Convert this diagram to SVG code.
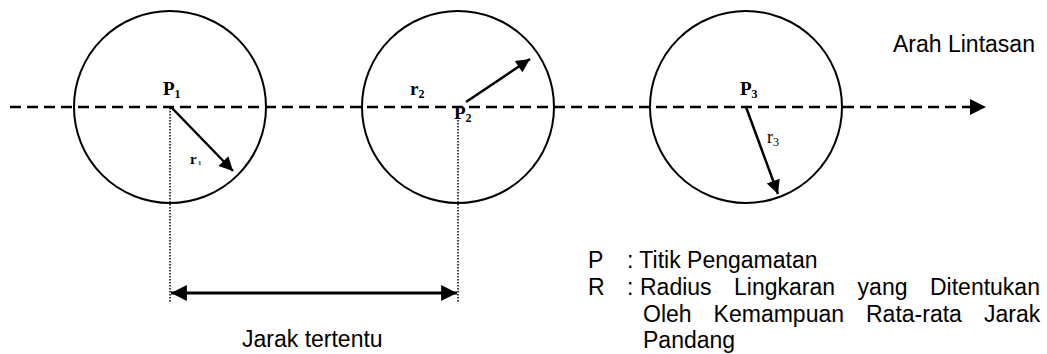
<svg xmlns="http://www.w3.org/2000/svg" width="1047" height="354" viewBox="0 0 1047 354">
<style>
.circ{fill:none;stroke:#000;stroke-width:2}
.path{stroke:#000;stroke-width:2.5;stroke-dasharray:11 6;fill:none}
.dot{stroke:#000;stroke-width:1.5;stroke-dasharray:1.5 1.5;fill:none}
.arr{stroke:#000;stroke-width:2.5;fill:none}
.lbl{font-family:"Liberation Serif",serif;font-weight:bold;font-size:19px;fill:#000}
.sub{font-size:12px}
.txt{font-family:"Liberation Sans",Arial,sans-serif;font-size:23px;fill:#000}
</style>
<defs>
<marker id="ah" viewBox="0 0 10 10" refX="10" refY="5" markerWidth="7" markerHeight="5.5" markerUnits="strokeWidth" orient="auto-start-reverse">
<path d="M0,0 L10,5 L0,10 Z" fill="#000"/>
</marker>
<marker id="ah2" viewBox="0 0 10 10" refX="10" refY="5" markerWidth="5.3" markerHeight="5.3" markerUnits="strokeWidth" orient="auto-start-reverse">
<path d="M0,0 L10,5 L0,10 Z" fill="#000"/>
</marker>
</defs>
<g id="connectors">
<line class="path" x1="10" y1="107" x2="971" y2="107"/>
<path d="M970,99 L986,107 L970,115 Z" fill="#000"/>
<line class="dot" x1="170" y1="108" x2="170" y2="302"/>
<line class="dot" x1="458" y1="120" x2="458" y2="302"/>
<line class="arr" style="stroke-width:3" x1="171" y1="293" x2="457" y2="293" marker-start="url(#ah2)" marker-end="url(#ah2)"/>
</g>
<g id="node-p1">
<circle class="circ" cx="170" cy="107" r="96"/>
<line class="arr" x1="171" y1="107" x2="233" y2="171" marker-end="url(#ah)"/>
<text class="lbl" x="163" y="95">P<tspan class="sub" dy="3">1</tspan></text>
<text class="lbl" x="190" y="164" style="font-size:15px">r<tspan style="font-size:6px" dy="1"> 1</tspan></text>
</g>
<g id="node-p2">
<circle class="circ" cx="458" cy="107" r="96"/>
<line class="arr" x1="466" y1="102" x2="530" y2="59" marker-end="url(#ah)"/>
<text class="lbl" x="454" y="119">P<tspan class="sub" dy="3">2</tspan></text>
<text class="lbl" x="410" y="95">r<tspan class="sub" dy="3">2</tspan></text>
</g>
<g id="node-p3">
<circle class="circ" cx="746" cy="107" r="96"/>
<line class="arr" x1="746" y1="107" x2="778" y2="194" marker-end="url(#ah)"/>
<text class="lbl" x="740" y="95">P<tspan class="sub" dy="3">3</tspan></text>
<text x="767" y="143" style="font-family:'Liberation Serif',serif;font-size:18px">r<tspan style="font-size:12px" dy="3">3</tspan></text>
</g>
<g id="labels">
<text class="txt" x="893" y="52">Arah Lintasan</text>
<text class="txt" x="242" y="347">Jarak tertentu</text>
<text class="txt" x="588" y="268">P</text>
<text class="txt" x="627" y="268">: Titik Pengamatan</text>
<text class="txt" x="588" y="295">R</text>
<text class="txt" x="627" y="295">:</text>
<text class="txt" y="295"><tspan x="640">Radius</tspan><tspan x="734">Lingkaran</tspan><tspan x="857.6">yang</tspan><tspan x="930">Ditentukan</tspan></text>
<text class="txt" y="322"><tspan x="643">Oleh</tspan><tspan x="713.6">Kemampuan</tspan><tspan x="866">Rata-rata</tspan><tspan x="984">Jarak</tspan></text>
<text class="txt" x="643" y="348">Pandang</text>
</g>
</svg>
